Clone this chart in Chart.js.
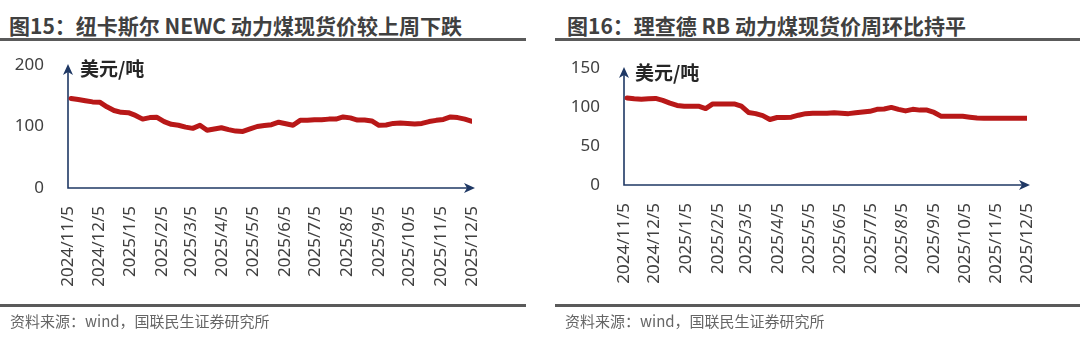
<!DOCTYPE html>
<html>
<head>
<meta charset="utf-8">
<script src="https://cdn.jsdelivr.net/npm/chart.js@4.4.1/dist/chart.umd.min.js"></script>
<style>
  body { margin: 0; width: 1080px; height: 338px; background: #fff; position: relative; overflow: hidden;
         font-family: "Noto Sans CJK SC", "Noto Sans", sans-serif; }
  .panel { position: absolute; top: 0; width: 540px; height: 338px; }
  .panel canvas { position: absolute; left: 0; top: 0; }
  .title { position: absolute; top: 10px; font-size: 21px; font-weight: bold; color: #404040; white-space: nowrap; line-height: 30px; }
  .rule { position: absolute; height: 2.5px; background: #5a5a5a; }
  .unit { position: absolute; font-size: 19px; font-weight: bold; color: #262626; line-height: 20px; white-space: nowrap; }
  .source { position: absolute; top: 310px; font-size: 15px; color: #666; white-space: nowrap; line-height: 22px; }
</style>
</head>
<body>

<div class="panel" style="left:0">
  <div class="title" style="left:9px">图15：纽卡斯尔 NEWC 动力煤现货价较上周下跌</div>
  <div class="rule" style="left:0;width:526px;top:38px"></div>
  <canvas id="newc" width="540" height="338"></canvas>
  <div class="unit" style="left:80px;top:58px">美元/吨</div>
  <div class="rule" style="left:0;width:526px;top:304px"></div>
  <div class="source" style="left:10px">资料来源：wind，国联民生证券研究所</div>
</div>

<div class="panel" style="left:540px">
  <div class="title" style="left:27px">图16：理查德 RB 动力煤现货价周环比持平</div>
  <div class="rule" style="left:15px;width:525px;top:38px"></div>
  <canvas id="rb" width="540" height="338"></canvas>
  <div class="unit" style="left:95px;top:62px">美元/吨</div>
  <div class="rule" style="left:15px;width:525px;top:304px"></div>
  <div class="source" style="left:25px">资料来源：wind，国联民生证券研究所</div>
</div>

<script>
// weekly observation dates (Fridays)
const weekDates = [
  '2024/11/8', '2024/11/15', '2024/11/22', '2024/11/29', '2024/12/6', '2024/12/13', '2024/12/20', '2024/12/27',
  '2025/1/3', '2025/1/10', '2025/1/17', '2025/1/24', '2025/1/31',
  '2025/2/7', '2025/2/14', '2025/2/21', '2025/2/28',
  '2025/3/7', '2025/3/14', '2025/3/21', '2025/3/28',
  '2025/4/4', '2025/4/11', '2025/4/18', '2025/4/25',
  '2025/5/2', '2025/5/9', '2025/5/16', '2025/5/23', '2025/5/30',
  '2025/6/6', '2025/6/13', '2025/6/20', '2025/6/27',
  '2025/7/4', '2025/7/11', '2025/7/18', '2025/7/25',
  '2025/8/1', '2025/8/8', '2025/8/15', '2025/8/22', '2025/8/29',
  '2025/9/5', '2025/9/12', '2025/9/19', '2025/9/26',
  '2025/10/3', '2025/10/10', '2025/10/17', '2025/10/24', '2025/10/31',
  '2025/11/7', '2025/11/14', '2025/11/21', '2025/11/28', '2025/12/5'
];

// NEWC spot, USD/t
const newcPrice = [
  145.5, 144, 142, 140, 139.5, 132, 126, 123, 122.5, 118, 112, 114.5, 115,
  108, 103.5, 102, 99, 97, 102, 94, 96, 98, 95, 92.5, 92, 96,
  100, 101.5, 103, 107, 104.5, 102, 110, 110, 111, 111, 112, 112, 115.5,
  114, 110.5, 110.5, 109, 102, 102.5, 105, 105.5, 105, 104, 105, 108,
  110, 111.5, 115.5, 114.5, 112, 108.5
];

// Richards Bay spot, USD/t
const rbPrice = [
  111.5, 110.5, 110, 110.5, 111, 108.5, 105, 102, 101, 101, 101, 98, 104,
  104, 104, 104, 101, 93, 91.5, 89, 84, 86.5, 86.5, 87, 89.5, 91.5,
  92, 92, 92, 92.5, 92, 91.5, 92.5, 93.5, 94.5, 97, 97.5, 99.5, 97,
  95, 97, 96, 96, 93, 88, 88, 88, 88, 87, 86, 85.5, 85.5, 85.5,
  85.5, 85.5, 85.5, 85.5
];

const monthLabels = [
  '2024/11/5', '2024/12/5', '2025/1/5', '2025/2/5', '2025/3/5', '2025/4/5', '2025/5/5',
  '2025/6/5', '2025/7/5', '2025/8/5', '2025/9/5', '2025/10/5', '2025/11/5', '2025/12/5'
];

const newcTicks = [0, 100, 200];
const rbTicks = [0, 50, 100, 150];

const tickFont = { family: '"Noto Sans", "Noto Sans CJK SC", sans-serif', size: 17 };
const axisColor = '#1f3864';

// days since the first month label
const dayOf = s => {
  const [y, m, d] = s.split('/').map(Number);
  return (Date.UTC(y, m - 1, d) - Date.UTC(2024, 10, 5)) / 864e5;
};

// axis lines with arrow heads, drawn under the series
const axisArrows = {
  id: 'axisArrows',
  beforeDatasetsDraw(chart) {
    const { ctx, chartArea: { left, right, top, bottom } } = chart;
    ctx.save();
    ctx.strokeStyle = axisColor;
    ctx.fillStyle = axisColor;
    ctx.lineWidth = 1.6;
    ctx.beginPath();
    ctx.moveTo(left, top + 4);
    ctx.lineTo(left, bottom);
    ctx.lineTo(right - 2, bottom);
    ctx.stroke();

    ctx.beginPath();
    ctx.moveTo(left, top - 1);
    ctx.lineTo(left - 5, top + 10);
    ctx.lineTo(left, top + 7);
    ctx.lineTo(left + 5, top + 10);
    ctx.closePath();
    ctx.fill();

    const tip = right + 3;
    ctx.beginPath();
    ctx.moveTo(tip, bottom);
    ctx.lineTo(tip - 11, bottom - 5);
    ctx.lineTo(tip - 8, bottom);
    ctx.lineTo(tip - 11, bottom + 5);
    ctx.closePath();
    ctx.fill();
    ctx.restore();
  }
};

function drawChart(id, values, yTicks, yAxisWidth, padding) {
  new Chart(document.getElementById(id), {
    type: 'line',
    data: {
      datasets: [{
        data: weekDates.map((d, i) => ({ x: dayOf(d), y: values[i] })),
        borderColor: '#b81818',
        borderWidth: 5,
        pointRadius: 0,
        tension: 0,
        borderJoinStyle: 'round',
        borderCapStyle: 'round'
      }]
    },
    options: {
      responsive: false,
      animation: false,
      layout: { padding },
      plugins: { legend: { display: false }, tooltip: { enabled: false } },
      scales: {
        x: {
          type: 'linear',
          min: 0,
          max: dayOf(monthLabels[monthLabels.length - 1]),
          grid: { display: false },
          border: { display: false },
          afterBuildTicks: s => { s.ticks = monthLabels.map(l => ({ value: dayOf(l) })); },
          afterFit: s => { s.height = 100; },
          ticks: {
            autoSkip: false,
            minRotation: 90,
            maxRotation: 90,
            padding: 10,
            color: '#404040',
            font: tickFont,
            callback: (v, i) => monthLabels[i]
          }
        },
        y: {
          min: yTicks[0],
          max: yTicks[yTicks.length - 1],
          grid: { display: false },
          border: { display: false },
          afterBuildTicks: s => { s.ticks = yTicks.map(v => ({ value: v })); },
          afterFit: s => { s.width = yAxisWidth; },
          ticks: { padding: 16, color: '#404040', font: tickFont }
        }
      }
    },
    plugins: [axisArrows]
  });
}

drawChart('newc', newcPrice, newcTicks, 68, { left: 0, right: 68, top: 65, bottom: 50 });
drawChart('rb', rbPrice, rbTicks, 84, { left: 0, right: 53, top: 68, bottom: 53 });
</script>
</body>
</html>
